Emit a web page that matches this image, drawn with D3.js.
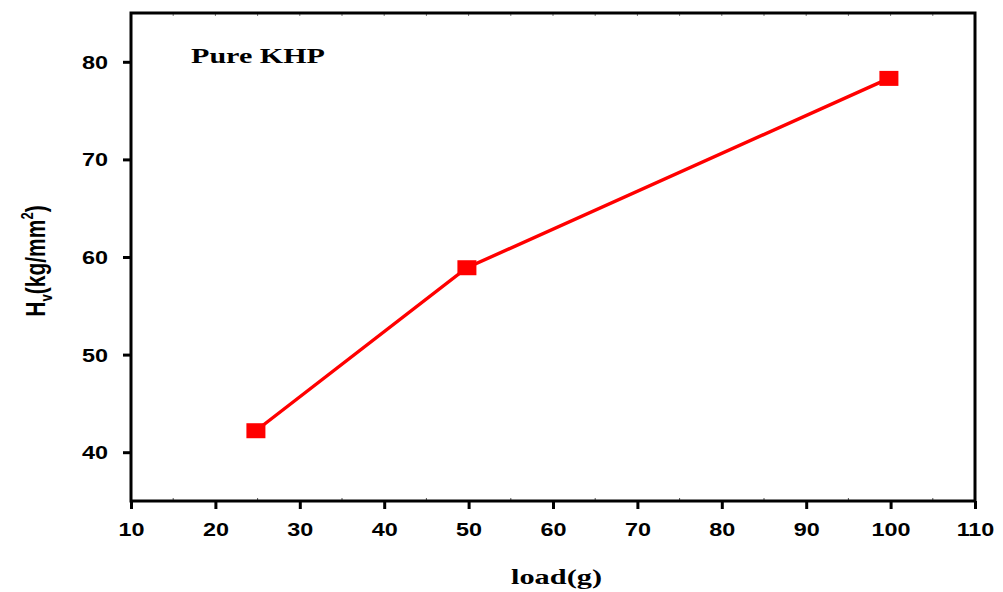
<!DOCTYPE html>
<html>
<head>
<meta charset="utf-8">
<script src="https://cdn.jsdelivr.net/npm/d3@7"></script>
<style>
  body { margin: 0; background: #fff; }
  svg { display: block; }
</style>
</head>
<body>
<script>
// hardness vs load
const loads = [24.8, 49.8, 99.8];
const hardness = [42.2, 58.9, 78.3];
const xTicks = [10, 20, 30, 40, 50, 60, 70, 80, 90, 100, 110];
const yTicks = [40, 50, 60, 70, 80];

const W = 1003, H = 592;
const m = {left: 131, right: 28, top: 13, bottom: 91};
const sx = 1.3; // the original looks stretched sideways

const svg = d3.select('body').append('svg')
    .attr('width', W)
    .attr('height', H);

const x = d3.scaleLinear().domain([10, 110]).range([m.left, W - m.right]);
const y = d3.scaleLinear().domain([35, 85]).range([H - m.bottom, m.top]);

const tickFont = 'Liberation Sans, Arial, sans-serif';
const serif = 'Liberation Serif, Times New Roman, serif';

// minor ticks (inward, faint) on bottom and top
const xMinor = d3.range(15, 110, 10);
const xAll = d3.range(15, 110, 5);
svg.append('g').selectAll('line')
    .data(xMinor).join('line')
    .attr('x1', d => x(d)).attr('x2', d => x(d))
    .attr('y1', y(35)).attr('y2', y(35) - 3)
    .attr('stroke', '#555').attr('stroke-width', 1);
svg.append('g').selectAll('line')
    .data(xAll).join('line')
    .attr('x1', d => x(d)).attr('x2', d => x(d))
    .attr('y1', y(85)).attr('y2', y(85) + 3)
    .attr('stroke', '#777').attr('stroke-width', 1);

// bottom axis
const xAxis = d3.axisBottom(x).tickValues(xTicks).tickSize(8).tickSizeOuter(0).tickPadding(14);
const gx = svg.append('g')
    .attr('transform', `translate(0,${y(35)})`)
    .call(xAxis);
gx.select('.domain').remove();
gx.selectAll('.tick line').attr('stroke', '#000').attr('stroke-width', 3);
gx.selectAll('.tick text')
    .attr('font-family', tickFont)
    .attr('font-weight', 'bold')
    .attr('font-size', 18)
    .attr('fill', '#000')
    .attr('transform', `scale(${sx},1)`);

// left axis
const yAxis = d3.axisLeft(y).tickValues(yTicks).tickSize(8).tickSizeOuter(0);
const gy = svg.append('g')
    .attr('transform', `translate(${x(10)},0)`)
    .call(yAxis);
gy.select('.domain').remove();
gy.selectAll('.tick line').attr('stroke', '#000').attr('stroke-width', 3);
gy.selectAll('.tick text')
    .attr('font-family', tickFont)
    .attr('font-weight', 'bold')
    .attr('font-size', 18)
    .attr('fill', '#000')
    .attr('x', -23 / sx)
    .attr('dy', '0.36em')
    .attr('transform', `scale(${sx},1)`);

// frame
svg.append('rect')
    .attr('x', x(10)).attr('y', y(85))
    .attr('width', x(110) - x(10))
    .attr('height', y(35) - y(85))
    .attr('fill', 'none')
    .attr('stroke', '#000')
    .attr('stroke-width', 3);

// series
const pts = loads.map((d, i) => [d, hardness[i]]);
svg.append('path')
    .datum(pts)
    .attr('d', d3.line().x(d => x(d[0])).y(d => y(d[1])))
    .attr('fill', 'none')
    .attr('stroke', '#ff0000')
    .attr('stroke-width', 3.4);

svg.append('g').selectAll('rect')
    .data(pts).join('rect')
    .attr('x', d => x(d[0]) - 9.5)
    .attr('y', d => y(d[1]) - 7.5)
    .attr('width', 19)
    .attr('height', 15)
    .attr('fill', '#ff0000');

// in-plot label
svg.append('text')
    .attr('x', 191).attr('y', 63)
    .attr('font-family', serif)
    .attr('font-weight', 'bold')
    .attr('font-size', 22)
    .attr('textLength', 134)
    .attr('lengthAdjust', 'spacingAndGlyphs')
    .text('Pure KHP');

// x title
svg.append('text')
    .attr('x', 511).attr('y', 584)
    .attr('font-family', serif)
    .attr('font-weight', 'bold')
    .attr('font-size', 22)
    .attr('textLength', 91)
    .attr('lengthAdjust', 'spacingAndGlyphs')
    .text('load(g)');

// y title with sub/superscript
const yt = svg.append('text')
    .attr('transform', `translate(45,261) rotate(-90) scale(1,${sx})`)
    .attr('text-anchor', 'middle')
    .attr('font-family', tickFont)
    .attr('font-weight', 'bold')
    .attr('font-size', 21);
yt.append('tspan').text('H');
yt.append('tspan').attr('font-size', 13).attr('dy', 5).text('v');
yt.append('tspan').attr('dy', -5).text('(kg/mm');
yt.append('tspan').attr('font-size', 13).attr('dy', -9).text('2');
yt.append('tspan').attr('dy', 9).text(')');
</script>
</body>
</html>
